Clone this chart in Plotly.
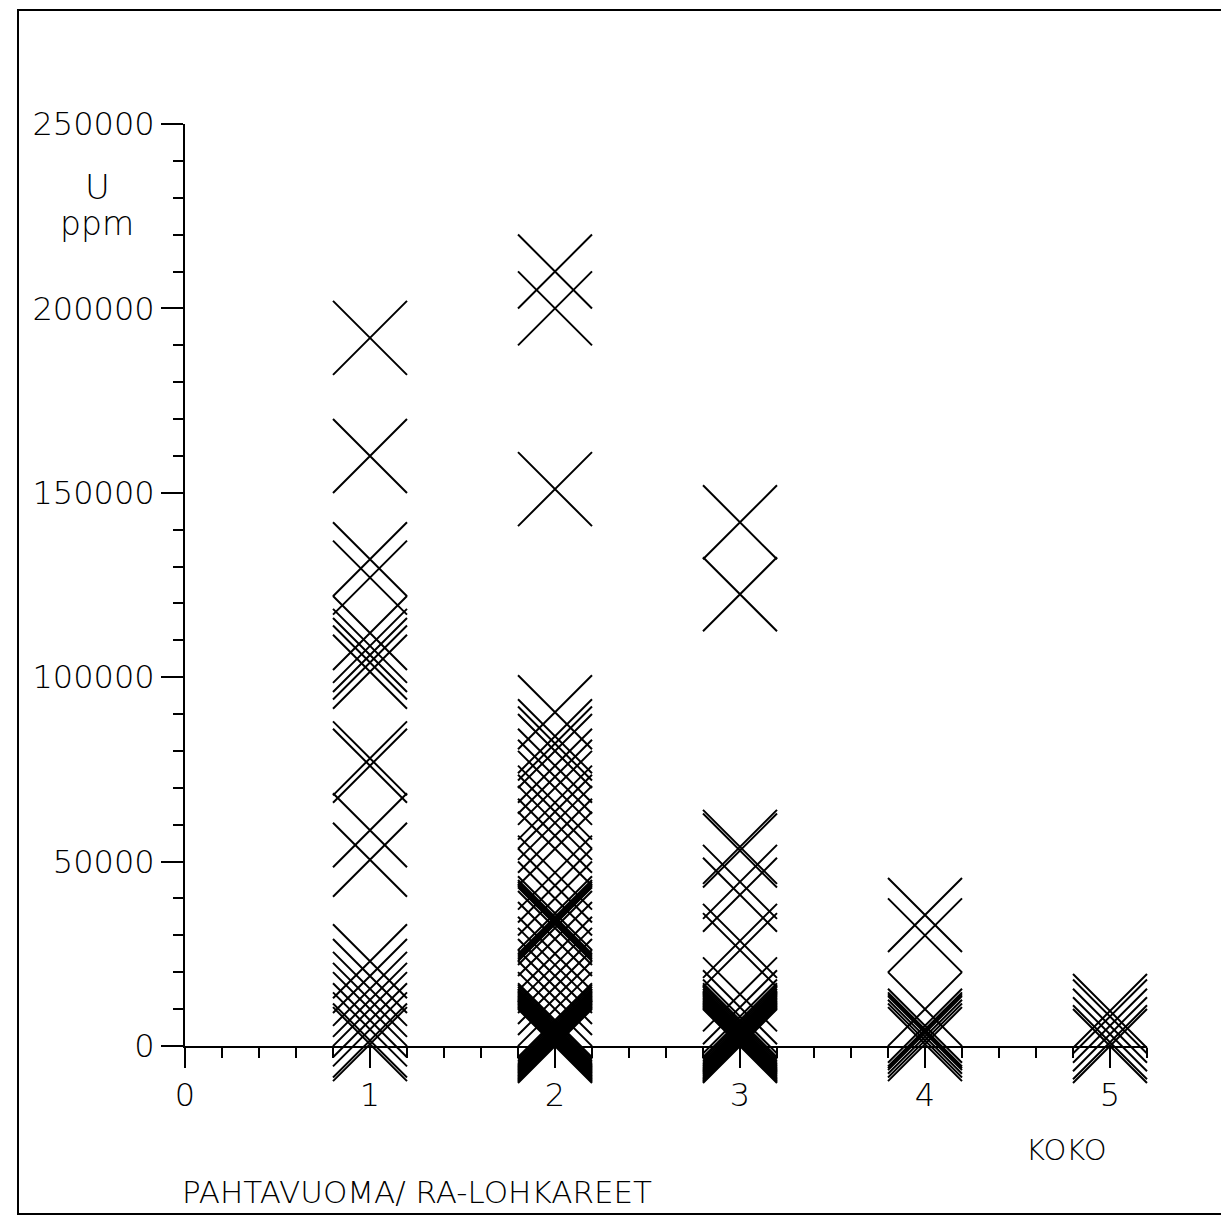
import plotly.graph_objects as go

# ---- data (U ppm per size class KOKO) ----
koko_classes = [1, 2, 3, 4, 5]
u_koko1 = [192000, 160000, 132000, 127000, 112000, 108500, 106000, 104000, 101500,
           78000, 76000, 58500, 50500, 23000, 19000, 15500, 12500, 10000, 7000, 4500, 1500, 500]
u_koko2 = [210000, 200000, 151000, 90500, 84000, 82000, 80000, 76000, 73000, 70000,
           66000, 63500, 60500, 57000, 53500, 47000, 43500, 40000, 36000, 35000, 34500,
           34000, 33500, 33000, 32000, 29000, 25000, 22000, 19000, 16000, 13000, 10000,
           7000, 6500, 6000, 5500, 5000, 4750, 4500, 4250, 4000, 3750, 3500, 3250, 3000,
           2750, 2500, 2250, 2000, 1750, 1500, 1250, 1000, 750, 500, 250, 0]
u_koko3 = [142000, 122500, 54000, 53000, 44500, 41000, 28500, 26000, 14000, 10500, 8000,
           7000, 6500, 6000, 5500, 5000, 4700, 4400, 4100, 3800, 3500, 3200, 2900, 2600,
           2300, 2000, 1700, 1400, 1100, 800, 500, 250, 0]
u_koko4 = [35500, 30000, 10000, 5500, 4500, 4000, 3500, 2500, 1500, 500]
u_koko5 = [9500, 8000, 5500, 3200, 1000, 0]
series = [u_koko1, u_koko2, u_koko3, u_koko4, u_koko5]

y_tick_vals = [0, 50000, 100000, 150000, 200000, 250000]
y_tick_text = ["0", "50000", "100000", "150000", "200000", "250000"]
x_tick_vals = [0, 1, 2, 3, 4, 5]
x_tick_text = ["0", "1", "2", "3", "4", "5"]

FONT = "DejaVu Sans"
OFF = 8  # page offset of the figure inside the browser window

fig = go.Figure()
for k, vals in zip(koko_classes, series):
    fig.add_trace(go.Scatter(
        x=[k] * len(vals), y=vals, mode="markers",
        marker=dict(symbol="x-thin-open", size=74, color="black",
                    line=dict(width=2, color="black")),
        cliponaxis=False, showlegend=False, hoverinfo="skip"))

W, H = 1229 - OFF, 1220 - OFF
L, T = 185 - OFF, 124 - OFF
pw = 962
ph = 1046 - 124
R = W - L - pw
B = H - T - ph

def px2paper(px, py):
    # px, py are reference-image pixel coordinates
    fx, fy = px - OFF, py - OFF
    return (fx - L) / pw, (T + ph - fy) / ph

fx0, fy1 = px2paper(18, 10)
fx1, fy0 = px2paper(1226, 1214)

tickfont = dict(family=FONT, size=32, color="black", weight=300)

fig.update_layout(
    width=W, height=H,
    margin=dict(l=L, r=R, t=T, b=B),
    paper_bgcolor="white", plot_bgcolor="white",
    xaxis=dict(range=[0, 5.2], showline=True, linecolor="black", linewidth=2,
               ticks="outside", ticklen=20, tickwidth=2, tickcolor="black",
               tickvals=x_tick_vals, ticktext=x_tick_text, tickfont=tickfont,
               showgrid=False, zeroline=False,
               minor=dict(dtick=0.2, tick0=0, ticks="outside", ticklen=10,
                          tickwidth=2, tickcolor="black", showgrid=False)),
    yaxis=dict(range=[0, 250000.5], showline=True, linecolor="black", linewidth=2,
               ticks="outside", ticklen=22, tickwidth=2, tickcolor="black",
               tickvals=y_tick_vals, ticktext=y_tick_text, tickfont=tickfont,
               showgrid=False, zeroline=False,
               minor=dict(dtick=10000, tick0=0, ticks="outside", ticklen=10,
                          tickwidth=2, tickcolor="black", showgrid=False)),
    shapes=[dict(type="rect", xref="paper", yref="paper",
                 x0=fx0, x1=fx1, y0=fy0, y1=fy1,
                 line=dict(color="black", width=2), fillcolor="rgba(0,0,0,0)")],
)

def ann(text, px, py, size, xanchor="center"):
    x, y = px2paper(px, py)
    fig.add_annotation(text=text, x=x, y=y, xref="paper", yref="paper",
                       xanchor=xanchor, yanchor="middle", showarrow=False,
                       font=dict(family=FONT, size=size, color="black", weight=300))

ann("U", 97, 187, 34)
ann("ppm", 97, 224, 33)
ann("KOKO", 1066, 1150, 29)
ann("PAHTAVUOMA/ RA-LOHKAREET", 180, 1192, 31, xanchor="left")

fig.write_html("out.html")
